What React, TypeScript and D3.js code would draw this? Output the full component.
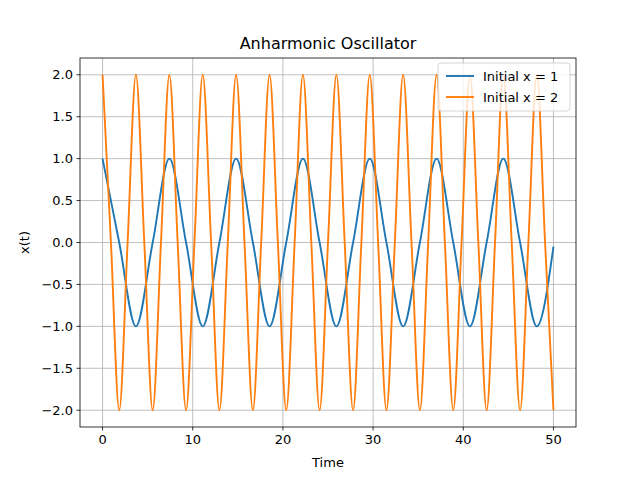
import React from 'react'
import * as d3 from 'd3'

// extrema and zero crossings of each run
const timesA = [0, 1.85, 3.7, 5.56, 7.41, 9.26, 11.11, 12.96, 14.81, 16.67, 18.52, 20.37, 22.22, 24.07, 25.93, 27.78, 29.63, 31.48, 33.33, 35.19, 37.04, 38.89, 40.74, 42.59, 44.44, 46.3, 48.15, 50.0]
const valuesA = [1, 0, -1, 0, 1, 0, -1, 0, 1, 0, -1, 0, 1, 0, -1, 0, 1, 0, -1, 0, 1, 0, -1, 0, 1, 0, -1, -0.05]

const timesB = [0, 0.93, 1.85, 2.78, 3.7, 4.63, 5.56, 6.48, 7.41, 8.33, 9.26, 10.19, 11.11, 12.04, 12.96, 13.89, 14.81, 15.74, 16.67, 17.59, 18.52, 19.44, 20.37, 21.3, 22.22, 23.15, 24.07, 25.0, 25.93, 26.85, 27.78, 28.7, 29.63, 30.56, 31.48, 32.41, 33.33, 34.26, 35.19, 36.11, 37.04, 37.96, 38.89, 39.81, 40.74, 41.67, 42.59, 43.52, 44.44, 45.37, 46.3, 47.22, 48.15, 49.07, 50.0]
const valuesB = [2, 0, -2, 0, 2, 0, -2, 0, 2, 0, -2, 0, 2, 0, -2, 0, 2, 0, -2, 0, 2, 0, -2, 0, 2, 0, -2, 0, 2, 0, -2, 0, 2, 0, -2, 0, 2, 0, -2, 0, 2, 0, -2, 0, 2, 0, -2, 0, 2, 0, -2, 0, 2, 0, -2]

const xTicks = [0, 10, 20, 30, 40, 50]
const yTicks = [-2.0, -1.5, -1.0, -0.5, 0.0, 0.5, 1.0, 1.5, 2.0]

const series = [
  { name: 'Initial x = 1', t: timesA, v: valuesA, color: '#1f77b4' },
  { name: 'Initial x = 2', t: timesB, v: valuesB, color: '#ff7f0e' },
]

const App = () => {
  const left = 80, right = 576, top = 58, bottom = 427
  const x = d3.scaleLinear().domain([-2.5, 52.5]).range([left, right])
  const y = d3.scaleLinear().domain([-2.2, 2.2]).range([bottom, top])
  const gen = d3.line<[number, number]>().x(d => x(d[0])).y(d => y(d[1])).curve(d3.curveMonotoneX)
  const font = 'DejaVu Sans, sans-serif'

  return (
    <svg width={640} height={480} style={{ position: 'absolute', left: 0, top: 0, fontFamily: font }}>
      <rect width={640} height={480} fill="#fff" />
      {xTicks.map(t => (
        <g key={'x' + t}>
          <line x1={x(t)} x2={x(t)} y1={top} y2={bottom} stroke="#b0b0b0" strokeWidth={0.8} />
          <line x1={x(t)} x2={x(t)} y1={bottom} y2={bottom + 3.5} stroke="#000" strokeWidth={0.8} />
          <text x={x(t)} y={bottom + 17} fontSize={13} textAnchor="middle">{t}</text>
        </g>
      ))}
      {yTicks.map(t => (
        <g key={'y' + t}>
          <line x1={left} x2={right} y1={y(t)} y2={y(t)} stroke="#b0b0b0" strokeWidth={0.8} />
          <line x1={left - 3.5} x2={left} y1={y(t)} y2={y(t)} stroke="#000" strokeWidth={0.8} />
          <text x={left - 7} y={y(t)} dy="0.35em" fontSize={13} textAnchor="end">{t.toFixed(1).replace('-', '\u2212')}</text>
        </g>
      ))}
      {series.map(s => (
        <path key={s.name} d={gen(s.t.map((t, i) => [t, s.v[i]] as [number, number])) || ''}
          fill="none" stroke={s.color} strokeWidth={1.9} />
      ))}
      <rect x={left} y={top} width={right - left} height={bottom - top} fill="none" stroke="#000" strokeWidth={0.8} />
      <text x={(left + right) / 2} y={49} fontSize={16} textAnchor="middle">Anharmonic Oscillator</text>
      <text x={(left + right) / 2} y={467} fontSize={13} textAnchor="middle">Time</text>
      <text transform={`translate(29,${(top + bottom) / 2}) rotate(-90)`} fontSize={13} textAnchor="middle">x(t)</text>
      <g>
        <rect x={438} y={63} width={132} height={48} rx={3} fill="#fff" fillOpacity={0.8} stroke="#ccc" strokeWidth={0.8} />
        {series.map((s, i) => (
          <g key={'l' + s.name} transform={`translate(0,${76 + i * 21})`}>
            <line x1={446} x2={474} stroke={s.color} strokeWidth={1.9} />
            <text x={483} dy="0.35em" fontSize={13}>{s.name}</text>
          </g>
        ))}
      </g>
    </svg>
  )
}

export default App
